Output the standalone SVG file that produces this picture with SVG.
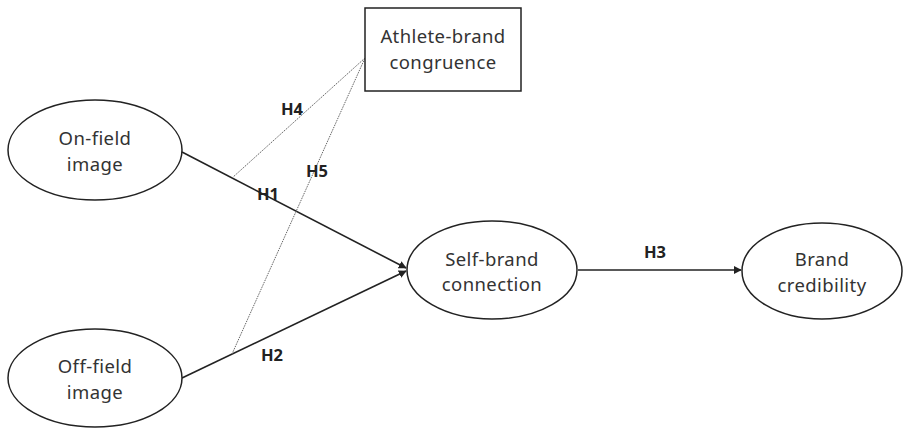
<svg xmlns="http://www.w3.org/2000/svg" width="905" height="428" viewBox="0 0 905 428">
<style>
.node{fill:#fff;stroke:#222;stroke-width:1.5}
.t{font-family:"Noto Sans","Open Sans",sans-serif;font-size:18.5px;letter-spacing:0.4px;fill:#333;text-anchor:middle}
.h{font-family:"Noto Sans","Open Sans",sans-serif;font-size:16.5px;font-weight:bold;fill:#222}
.c{stroke:#222;stroke-width:1.6;fill:none}
.d{stroke:#666;stroke-width:1;stroke-dasharray:1.5 1;fill:none}
</style>
<defs>
<marker id="ah" viewBox="0 0 10 10" refX="9" refY="5" markerWidth="5" markerHeight="5" orient="auto" markerUnits="strokeWidth">
<path d="M0,0 L10,5 L0,10 z" fill="#222"/>
</marker>
</defs>
<rect width="905" height="428" fill="#fff"/>
<g id="connectors">
<line class="c" x1="182" y1="152" x2="406" y2="268" marker-end="url(#ah)"/>
<line class="c" x1="182" y1="378" x2="406" y2="271" marker-end="url(#ah)"/>
<line class="c" x1="578" y1="270" x2="741" y2="270" marker-end="url(#ah)"/>
<line class="d" x1="232" y1="178" x2="365" y2="58"/>
<line class="d" x1="232" y1="354" x2="365" y2="58"/>
<text class="h" x="281" y="115">H4</text>
<text class="h" x="306" y="177">H5</text>
<text class="h" x="257" y="200">H1</text>
<text class="h" x="261" y="361">H2</text>
<text class="h" x="644" y="258">H3</text>
</g>
<g id="on-field">
<ellipse class="node" cx="95" cy="150" rx="87" ry="50"/>
<text class="t" x="95" y="145">On-field</text>
<text class="t" x="95" y="170.5">image</text>
</g>
<g id="off-field">
<ellipse class="node" cx="95" cy="378" rx="87" ry="49"/>
<text class="t" x="95" y="373">Off-field</text>
<text class="t" x="95" y="398.5">image</text>
</g>
<g id="athlete-brand">
<rect class="node" x="365" y="8" width="156" height="83"/>
<text class="t" x="443" y="43">Athlete-brand</text>
<text class="t" x="443" y="68.5">congruence</text>
</g>
<g id="self-brand">
<ellipse class="node" cx="492" cy="270" rx="85" ry="49"/>
<text class="t" x="492" y="265.5">Self-brand</text>
<text class="t" x="492" y="291">connection</text>
</g>
<g id="brand-credibility">
<ellipse class="node" cx="822" cy="271" rx="80" ry="48"/>
<text class="t" x="822" y="266">Brand</text>
<text class="t" x="822" y="291.5">credibility</text>
</g>
</svg>
